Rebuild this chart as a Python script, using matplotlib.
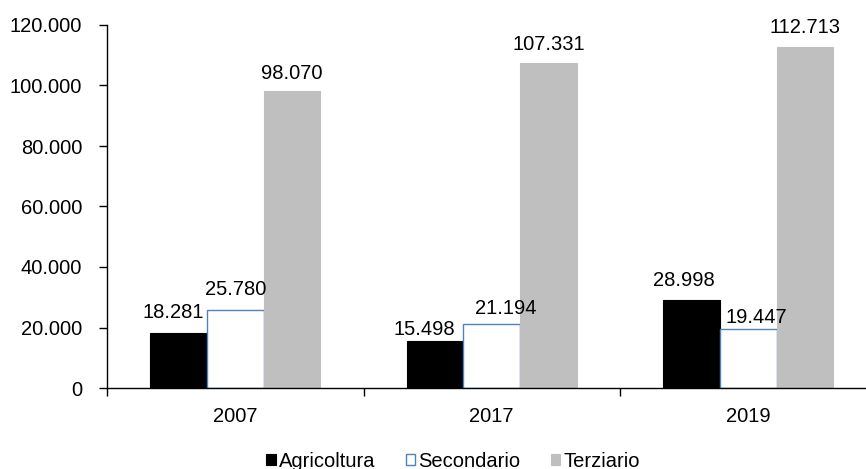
import numpy as np
import matplotlib.pyplot as plt
from matplotlib.ticker import FuncFormatter, FixedLocator

plt.rcParams['font.family'] = ['Liberation Sans', 'DejaVu Sans']

# dati
anni = ['2007', '2017', '2019']
agricoltura = [18281, 15498, 28998]
secondario = [25780, 21194, 19447]
terziario = [98070, 107331, 112713]

def fmt_it(v):
    return f"{int(v):,}".replace(",", ".")

W, H = 866, 469
fs = 14.5
fig = plt.figure(figsize=(W / 100, H / 100), dpi=100)
x0, x1 = 107, 876.5
ax = fig.add_axes([x0 / W, 1 - 388 / H, (x1 - x0) / W, (388 - 25) / H])

# spostamenti delle etichette (pixel: dx, distanza dalla barra)
spost = [
    [(-5, 15), (-11, 6), (-8, 14)],
    [(0, 15), (14, 10), (8, 6)],
    [(0, 12.5), (0, 13), (0, 14)],
]

x = np.arange(len(anni))
bw = 0.221
serie = [
    (agricoltura, 'Agricoltura', dict(color='black', edgecolor='black', linewidth=0.8)),
    (secondario, 'Secondario', dict(color='white', edgecolor='#4F81BD', linewidth=1.0)),
    (terziario, 'Terziario', dict(color='#BFBFBF', edgecolor='#BFBFBF', linewidth=0.8)),
]
for i, (vals, nome, st) in enumerate(serie):
    pos = x + (i - 1) * bw
    ax.bar(pos, vals, width=bw, label=nome, zorder=2, **st)
    for p, v, (dx, dy) in zip(pos, vals, spost[i]):
        ax.annotate(fmt_it(v), (p, v), xytext=(dx * 0.72, dy * 0.72), textcoords='offset points',
                    ha='center', va='baseline', fontsize=fs, zorder=3)

ax.set_xlim(-0.5, len(anni) - 0.5)
ax.set_ylim(0, 120000)
ax.set_yticks(np.arange(0, 120001, 20000))
ax.yaxis.set_major_formatter(FuncFormatter(lambda v, p: fmt_it(v)))
ax.set_xticks(x)
ax.set_xticklabels(anni)
ax.xaxis.set_minor_locator(FixedLocator([-0.5, 0.5, 1.5, 2.5]))
ax.tick_params(axis='x', which='major', length=0, labelsize=fs, pad=14)
ax.tick_params(axis='x', which='minor', length=6, width=1, direction='out')
ax.tick_params(axis='y', length=6, width=1, labelsize=fs, pad=12)

for s in ['top', 'right']:
    ax.spines[s].set_visible(False)
for s in ['left', 'bottom']:
    ax.spines[s].set_linewidth(1)
    ax.spines[s].set_color('black')

leg = fig.legend(loc='center', bbox_to_anchor=((266 + 640) / 2 / W, 1 - 461 / H),
                 ncol=3, frameon=False, fontsize=fs, handlelength=0.48, handleheight=0.48,
                 handletextpad=0.15, columnspacing=1.5, borderaxespad=0)

fig.savefig('out.png', dpi=100)
